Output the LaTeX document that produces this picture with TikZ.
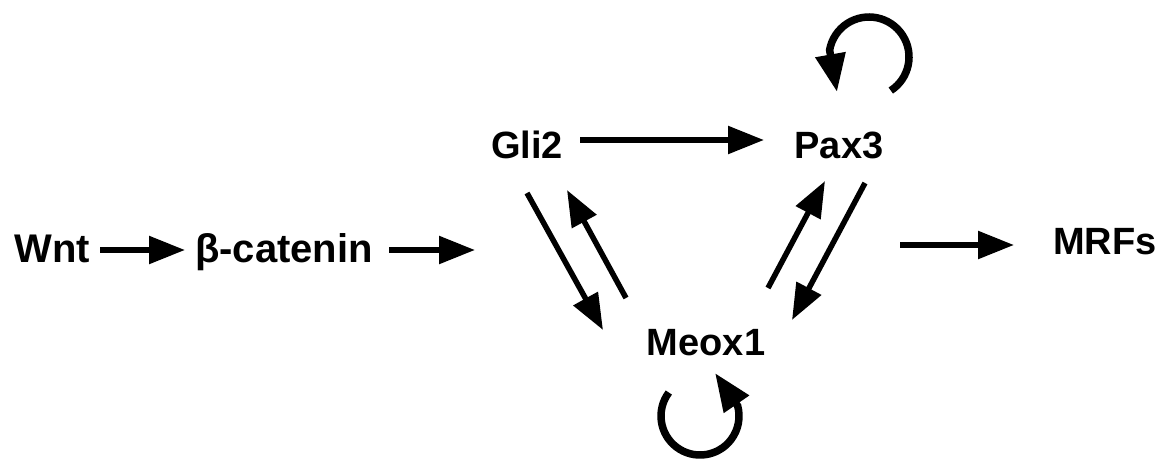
\documentclass[tikz,border=0pt]{standalone}
\usepackage{fontspec}
\setmainfont{Liberation Sans}
\usetikzlibrary{arrows.meta}
\begin{document}
\begin{tikzpicture}[x=1pt,y=-1pt,
  label/.style={anchor=base,inner sep=0pt,font=\fontsize{38}{40}\selectfont\bfseries},
  biglabel/.style={label,font=\fontsize{40}{42}\selectfont\bfseries},
  arr/.style={line width=5.5pt,-{Triangle[length=36pt,width=27pt]}},
  loop/.style={line width=7.5pt,-{Triangle[length=38pt,width=29pt]}}]
\useasboundingbox (0,0) rectangle (1169,460);

% genes and signals
\node[biglabel] (wnt)  at (52,262)  {Wnt};
\node[biglabel] (bcat) at (284,262) {β-catenin};
\node[label] (gli)  at (527,158) {Gli2};
\node[label] (pax)  at (839,158) {Pax3};
\node[label] (meox) at (706,355) {Meox1};
\node[label] (mrf)  at (1105,254) {MRFs};

% arrow end points
\coordinate (w1) at (100,250);  \coordinate (w2) at (185,250);
\coordinate (b1) at (389,250);  \coordinate (b2) at (475,250);
\coordinate (g1) at (580,140);  \coordinate (g2) at (764,140);
\coordinate (gm1) at (527,193); \coordinate (gm2) at (603,330);
\coordinate (mg1) at (626,298); \coordinate (mg2) at (567,190);
\coordinate (mp1) at (768,288); \coordinate (mp2) at (825,181);
\coordinate (pm1) at (865,183); \coordinate (pm2) at (792,320);
\coordinate (r1) at (900,245);  \coordinate (r2) at (1014,245);

\draw[arr] (w1) -- (w2);
\draw[arr] (b1) -- (b2);
\draw[arr] (g1) -- (g2);
\draw[arr] (gm1) -- (gm2);
\draw[arr] (mg1) -- (mg2);
\draw[arr] (mp1) -- (mp2);
\draw[arr] (pm1) -- (pm2);
\draw[arr] (r1) -- (r2);

% self-activation loops (angles measured with y pointing down)
\coordinate (pl) at (869,57);
\coordinate (ptip) at (837,92);
\draw[loop] (pl) ++(57:40) arc[start angle=57,end angle=-170,radius=40] -- (ptip);

\coordinate (ml) at (700,416);
\coordinate (mtip) at (715,373);
\draw[loop] (ml) ++(-143:39) arc[start angle=-143,end angle=-375,radius=39] -- (mtip);
\end{tikzpicture}
\end{document}
